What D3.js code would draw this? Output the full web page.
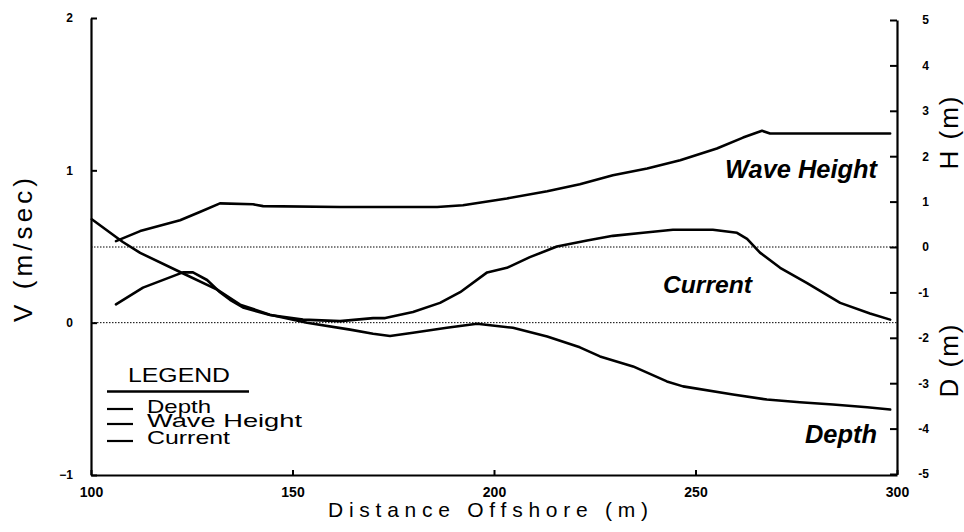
<!DOCTYPE html>
<html><head><meta charset="utf-8">
<script src="https://cdn.jsdelivr.net/npm/d3@7"></script>
<style>
html,body{margin:0;padding:0;background:#fff;}
svg{display:block;}
</style></head>
<body>
<script>
// ---- data ----
const xTicks = [100, 150, 200, 250, 300];
const vTicks = [-1, 0, 1, 2];
const hTicks = [-5, -4, -3, -2, -1, 0, 1, 2, 3, 4, 5];

// Depth (m), right axis
const depth = [[100.2,0.61],[107.9,0.11],[112.2,-0.13],[122.1,-0.55],[131.3,-0.94],[137,-1.27],[144.4,-1.49],[153.6,-1.67],[164.3,-1.82],[170,-1.91],[174.2,-1.96],[179.9,-1.89],[188.3,-1.78],[195.8,-1.69],[204.7,-1.78],[213.2,-1.97],[221.3,-2.21],[226.3,-2.41],[234.5,-2.63],[242.9,-2.96],[246.9,-3.07],[259.3,-3.25],[267.7,-3.36],[275.9,-3.42],[284.1,-3.47],[292.6,-3.53],[298.3,-3.58]];
// Wave height (m), right axis
const wave = [[106.2,0.13],[112.2,0.35],[122.1,0.59],[127,0.77],[132,0.96],[140.2,0.94],[142.7,0.90],[161.8,0.88],[174.2,0.88],[185.9,0.88],[192.3,0.92],[203.2,1.07],[213.2,1.23],[221.3,1.38],[229.5,1.58],[238,1.73],[246.2,1.91],[255.3,2.17],[261.8,2.41],[266.5,2.56],[268.5,2.50],[298.3,2.50]];
// Current (m/sec), left axis
const current = [[106.2,0.12],[112.9,0.23],[122.8,0.33],[125.3,0.33],[128.8,0.28],[132,0.20],[134.5,0.15],[137.7,0.10],[144.4,0.05],[152.6,0.02],[161.8,0.01],[170,0.03],[173,0.03],[179.9,0.07],[186.6,0.13],[191.6,0.20],[198.3,0.33],[203.2,0.36],[208.9,0.43],[215.6,0.50],[223.1,0.54],[229.5,0.57],[237,0.59],[244.4,0.61],[254.3,0.61],[260.3,0.59],[262.8,0.55],[266,0.46],[271,0.36],[277.7,0.26],[285.9,0.13],[293.3,0.06],[298.3,0.02]];

const legendItems = ["Depth", "Wave Height", "Current"];

// ---- drawing ----
const W = 964, H = 532;
const FONT = "'Liberation Sans', Arial, Helvetica, sans-serif";
const svg = d3.select("body").append("svg").attr("width", W).attr("height", H)
  .style("font-family", FONT);

const x = d3.scaleLinear().domain([100, 300]).range([91, 897]);
const yV = d3.scaleLinear().domain([-1, 2]).range([475, 18]);
const yH = d3.scaleLinear().domain([-5, 5]).range([474, 20]);

// dotted zero lines
svg.append("line").attr("x1", x(100)).attr("x2", x(300)).attr("y1", yH(0)).attr("y2", yH(0))
  .attr("stroke", "#000").attr("stroke-width", 1).attr("stroke-dasharray", "1.5,1.5");
svg.append("line").attr("x1", x(100)).attr("x2", x(300)).attr("y1", yV(0)).attr("y2", yV(0))
  .attr("stroke", "#000").attr("stroke-width", 1).attr("stroke-dasharray", "1.5,1.5");

// axes
const gL = svg.append("g").attr("transform", `translate(${x(100)},0)`)
  .call(d3.axisLeft(yV).tickValues(vTicks).tickFormat(d3.format("d")).tickSizeInner(-6).tickSizeOuter(0).tickPadding(18));
const gR = svg.append("g").attr("transform", `translate(${x(300)},0)`)
  .call(d3.axisRight(yH).tickValues(hTicks).tickFormat(d => d < 0 ? "-" + Math.abs(d) : String(d)).tickSizeInner(-7).tickSizeOuter(0).tickPadding(32));
const gB = svg.append("g").attr("transform", `translate(0,${yV(-1)})`)
  .call(d3.axisBottom(x).tickValues(xTicks).tickFormat(d3.format("d")).tickSizeInner(-5).tickSizeOuter(0).tickPadding(12));

[gL, gR, gB].forEach(g => {
  g.select(".domain").attr("stroke", "#000").attr("stroke-width", 2.2);
  g.selectAll(".tick line").attr("stroke", "#000").attr("stroke-width", 2);
  g.selectAll("text").attr("fill", "#000").style("font-family", FONT).style("font-weight", "bold");
});
gL.selectAll("text").style("font-size", "12px");
gR.selectAll("text").style("font-size", "12px").attr("text-anchor", "end");
gB.selectAll("text").style("font-size", "14px");

// curves
const lineV = d3.line().x(d => x(d[0])).y(d => yV(d[1]));
const lineH = d3.line().x(d => x(d[0])).y(d => yH(d[1]));
const curveStyle = p => p.attr("fill", "none").attr("stroke", "#000").attr("stroke-width", 2.6)
  .attr("stroke-linejoin", "round").attr("stroke-linecap", "round");
svg.append("path").datum(depth).attr("d", lineH).call(curveStyle);
svg.append("path").datum(wave).attr("d", lineH).call(curveStyle);
svg.append("path").datum(current).attr("d", lineV).call(curveStyle);

// axis titles
svg.append("text").attr("transform", "translate(32,250) rotate(-90)")
  .attr("text-anchor", "middle").style("font-size", "26px")
  .attr("textLength", 144).attr("lengthAdjust", "spacing").text("V (m/sec)");
svg.append("text").attr("transform", "translate(958,133) rotate(-90)")
  .attr("text-anchor", "middle").style("font-size", "26px")
  .attr("textLength", 73).attr("lengthAdjust", "spacing").text("H (m)");
svg.append("text").attr("transform", "translate(958,361) rotate(-90)")
  .attr("text-anchor", "middle").style("font-size", "26px")
  .attr("textLength", 73).attr("lengthAdjust", "spacing").text("D (m)");
svg.append("text").attr("x", 488).attr("y", 517)
  .attr("text-anchor", "middle").style("font-size", "21px")
  .attr("textLength", 320).attr("lengthAdjust", "spacing").text("Distance Offshore (m)");

// in-plot labels
const inLab = (t, xr, yb, fs, len) => svg.append("text").attr("x", xr).attr("y", yb)
  .attr("text-anchor", "end").style("font-size", fs + "px").style("font-weight", "bold").style("font-style", "italic")
  .attr("textLength", len).attr("lengthAdjust", "spacingAndGlyphs").text(t);
inLab("Wave Height", 877, 178, 25, 152);
inLab("Current", 752, 293, 24, 89);
inLab("Depth", 877, 443, 25, 72);

// legend
svg.append("text").attr("x", 128).attr("y", 382).style("font-size", "21px")
  .attr("textLength", 102).attr("lengthAdjust", "spacingAndGlyphs").text("LEGEND");
svg.append("line").attr("x1", 107).attr("x2", 249).attr("y1", 391.5).attr("y2", 391.5)
  .attr("stroke", "#000").attr("stroke-width", 2.6);
const legY = [409, 424, 441];
const legBase = [413, 427, 444];
const legLen = [64, 155, 83];
legendItems.forEach((t, i) => {
  svg.append("line").attr("x1", 107).attr("x2", 133).attr("y1", legY[i]).attr("y2", legY[i])
    .attr("stroke", "#000").attr("stroke-width", 2.2);
  svg.append("text").attr("x", 147).attr("y", legBase[i]).style("font-size", "19px")
    .attr("textLength", legLen[i]).attr("lengthAdjust", "spacingAndGlyphs").text(t);
});
</script>
</body></html>
